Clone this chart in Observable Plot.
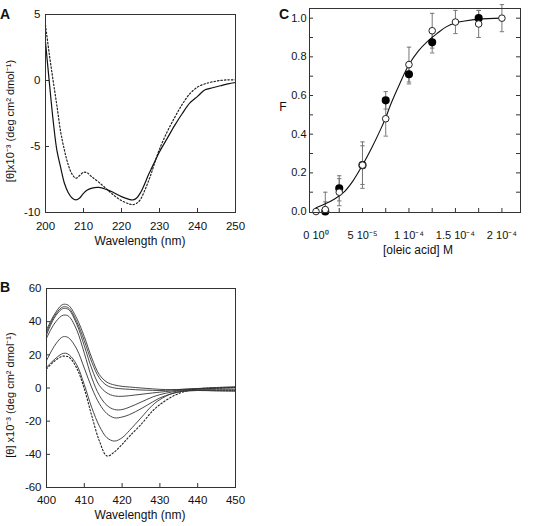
<!DOCTYPE html>
<html><head><meta charset="utf-8">
<script src="https://cdn.jsdelivr.net/npm/d3@7"></script>
<script src="https://cdn.jsdelivr.net/npm/@observablehq/plot@0.6"></script>
<style>
body{margin:0;background:#fff;font-family:"Liberation Sans",Arial,sans-serif;}
#root{position:relative;width:535px;height:526px;overflow:hidden;background:#fff;}
.panel{position:absolute;}
.lbl{position:absolute;color:#111;white-space:nowrap;font-family:"Liberation Sans",Arial,sans-serif;}
.letter{font-weight:bold;font-size:14px;}
.ylab{transform:translate(-50%,-50%) rotate(-90deg);font-size:11px;}
.xlab{transform:translate(-50%,-50%);font-size:12px;}
</style></head><body><div id="root"></div>
<script>
// ---------- Panel A data ----------
const wlA = [200,201,202,203,204,205,206,207,208,209,210,211,212,214,216,218,220,222,223,224,225,226,227,228,229,230,232,234,236,238,240,242,244,246,248,250];
const solidA = [2.9,-0.1,-3,-5.3,-6.6,-7.8,-8.5,-8.9,-9.05,-8.9,-8.55,-8.3,-8.17,-8.1,-8.25,-8.5,-8.8,-9.0,-9.05,-8.9,-8.5,-7.9,-7.2,-6.6,-6.0,-5.4,-4.4,-3.4,-2.5,-1.7,-1.2,-0.7,-0.55,-0.4,-0.25,-0.15];
const dottedA = [4.2,2.0,0,-1.9,-3.9,-5.3,-6.4,-7.1,-7.4,-7.2,-6.95,-7.0,-7.25,-7.7,-8.2,-8.7,-9.1,-9.35,-9.4,-9.3,-9.0,-8.4,-7.7,-6.9,-6.0,-5.2,-3.9,-2.8,-1.8,-1.0,-0.5,-0.25,-0.1,0.0,0.05,0.05];
const xTicksA = [200,210,220,230,240,250];
const yTicksA = [-10,-5,0,5];

// ---------- Panel B data ----------
const wlB = [400,402,404,405,406,408,410,412,414,416,418,420,422,425,428,430,433,436,440,445,450];
const curveB1 = [35,44,50,50.5,49.5,42,31,18,8,3.5,1.8,1.0,0.6,0,-0.5,-0.8,-1,-0.8,-0.3,0.3,0.8];
const curveB2 = [33.5,43,48.5,49,48,40,28.5,15.5,6,1.5,0,-0.5,-0.8,-1.2,-1.4,-1.5,-1.2,-0.8,-0.4,0,0.4];
const curveB3 = [32,42,47.5,48,47,38.5,25.5,11.5,1.5,-3,-4.8,-5,-4.6,-3.8,-3,-2.5,-1.8,-1.2,-0.6,-0.2,0];
const curveB4 = [30,38.5,43.5,44,43,35,21,6,-4.5,-10.5,-13,-13,-11.5,-8.5,-5.5,-4,-2.5,-1.5,-1,-1,-1];
const curveB5 = [16.5,25,30.5,31,30,23.5,12,0,-9.5,-15.5,-18,-17.5,-16,-12.5,-8.5,-6,-3.5,-2,-1.5,-1.5,-1.5];
const curveB6 = [12.5,17,20.5,21,20,14,2,-12,-23,-30,-32,-30,-25.5,-18,-10.5,-7,-3.5,-2,-1.5,-1.8,-2];
const dottedB = [11.5,16,19,19.2,18.5,12,-0.5,-17,-32,-41,-38.5,-34,-29,-22,-14,-10,-5.5,-2.5,-0.5,0,0.3];
const xTicksB = [400,410,420,430,440,450];
const yTicksB = [-60,-40,-20,0,20,40,60];

// ---------- Panel C data ----------
const concOpen = [0,1e-5,2.5e-5,5e-5,7.5e-5,1e-4,1.25e-4,1.5e-4,1.75e-4,2e-4];
const fOpen = [0,0.01,0.10,0.24,0.48,0.76,0.935,0.98,0.97,1.0];
const errOpen = [0,0.09,0.07,0.12,0.09,0.09,0.09,0.06,0.07,0.07];
const concFilled = [1e-5,2.5e-5,5e-5,7.5e-5,1e-4,1.25e-4,1.75e-4];
const fFilled = [0.0,0.12,0.24,0.575,0.71,0.875,1.0];
const errFilled = [0.05,0.065,0.10,0.045,0.05,0.055,0.04];
const fitX = [0,1e-5,2e-5,3e-5,4e-5,5e-5,6e-5,7e-5,7.5e-5,8e-5,9e-5,1e-4,1.1e-4,1.2e-4,1.3e-4,1.4e-4,1.5e-4,1.6e-4,1.75e-4,2e-4];
const fitY = [0.02,0.04,0.065,0.10,0.16,0.24,0.33,0.43,0.485,0.55,0.66,0.76,0.83,0.88,0.92,0.955,0.975,0.985,0.995,1.0];
const xTicksC = [0,5e-5,1e-4,1.5e-4,2e-4];
const xTickLabelsC = ["0 10⁰","5 10⁻⁵","1 10⁻⁴","1.5 10⁻⁴","2 10⁻⁴"];
const xMinorC = [2.5e-5,5e-5,7.5e-5,1e-4,1.25e-4,1.5e-4,1.75e-4,2e-4];
const yTicksC = [0,0.2,0.4,0.6,0.8,1.0];
const yMinorC = [0.1,0.2,0.3,0.4,0.5,0.6,0.7,0.8,0.9,1.0];

// ---------- helpers ----------
const root = document.getElementById("root");
const FONT = "'Liberation Sans', Arial, sans-serif";
function place(node, left, top){ node.classList.add("panel"); node.style.left=left+"px"; node.style.top=top+"px"; root.appendChild(node); }
function label(text, cls, x, y){ const d=document.createElement("div"); d.className="lbl "+cls; d.textContent=text; d.style.left=x+"px"; d.style.top=y+"px"; root.appendChild(d); }
const capSymbol = {draw(ctx, size){ const r=Math.sqrt(size/Math.PI); ctx.moveTo(-r,0); ctx.lineTo(r,0); }};
function inwardTicks(xs, ys, fw, fh){
  return [Plot.ruleX(xs,{x:d=>d,insetTop:fh-4,stroke:"#333"}), Plot.ruleY(ys,{y:d=>d,insetRight:fw-4,stroke:"#333"})];
}

// ---------- Panel A ----------
const dataA = wlA.map((w,i)=>({w, s:solidA[i], d:dottedA[i]}));
const plotA = Plot.plot({
  width:250, height:255, marginLeft:45, marginRight:15, marginTop:14, marginBottom:43,
  style:{fontFamily:FONT, fontSize:"11.5px", color:"#111", background:"transparent", overflow:"visible"},
  x:{domain:[200,250], ticks:xTicksA, tickFormat:d=>String(d), tickSize:0, tickPadding:9, label:null},
  y:{domain:[-10,5], ticks:yTicksA, tickFormat:d=>String(d), tickSize:0, tickPadding:5, label:null},
  marks:[
    ...inwardTicks([210,220,230,240],[-5,0],190,198),
    Plot.line(dataA,{x:"w",y:"d",stroke:"#222",strokeWidth:1.2,strokeDasharray:"1.5,2",curve:"catmull-rom"}),
    Plot.line(dataA,{x:"w",y:"s",stroke:"#111",strokeWidth:1.2,curve:"catmull-rom"}),
    Plot.frame({stroke:"#333"})
  ]
});
place(plotA,0,0);

// ---------- Panel B ----------
const solidB = [curveB1,curveB2,curveB3,curveB4,curveB5,curveB6];
const dataBs = solidB.flatMap((arr,k)=>wlB.map((w,i)=>({w, v:arr[i], k})));
const dataBd = wlB.map((w,i)=>({w, v:dottedB[i]}));
const plotB = Plot.plot({
  width:250, height:256, marginLeft:46, marginRight:15, marginTop:18, marginBottom:39,
  style:{fontFamily:FONT, fontSize:"11.5px", color:"#111", background:"transparent", overflow:"visible"},
  x:{domain:[400,450], ticks:xTicksB, tickFormat:d=>String(d), tickSize:0, tickPadding:8, label:null},
  y:{domain:[-60,60], ticks:yTicksB, tickFormat:d=>String(d), tickSize:0, tickPadding:5, label:null},
  marks:[
    ...inwardTicks([410,420,430,440],[-40,-20,0,20,40],189,199),
    Plot.line(dataBd,{x:"w",y:"v",stroke:"#222",strokeWidth:1.1,strokeDasharray:"1.5,2",curve:"catmull-rom"}),
    Plot.line(dataBs,{x:"w",y:"v",z:"k",stroke:"#333",strokeWidth:0.9,curve:"catmull-rom"}),
    Plot.frame({stroke:"#333"})
  ]
});
place(plotB,0,270);

// ---------- Panel C ----------
const openPts = concOpen.map((c,i)=>({c, f:fOpen[i], lo:Math.max(-0.005,fOpen[i]-errOpen[i]), hi:fOpen[i]+errOpen[i], e:errOpen[i]}));
const filledPts = concFilled.map((c,i)=>({c, f:fFilled[i], lo:Math.max(-0.005,fFilled[i]-errFilled[i]), hi:fFilled[i]+errFilled[i], e:errFilled[i]}));
const errPts = [...openPts, ...filledPts].filter(d=>d.e>0);
const fit = fitX.map((c,i)=>({c, f:fitY[i]}));
const plotC = Plot.plot({
  width:265, height:255, marginLeft:39, marginRight:15, marginTop:8, marginBottom:43,
  style:{fontFamily:FONT, fontSize:"11px", color:"#111", background:"transparent", overflow:"visible"},
  x:{domain:[-0.07e-4,2.2e-4], ticks:xTicksC, tickFormat:d=>xTickLabelsC[xTicksC.indexOf(d)], tickSize:0, tickPadding:19, label:null},
  y:{domain:[-0.005,1.05], ticks:yTicksC, tickFormat:d=>d.toFixed(1), tickSize:0, tickPadding:3, label:null},
  marks:[
    Plot.ruleX(xMinorC,{x:d=>d,insetTop:200,stroke:"#333"}),
    Plot.ruleY(yMinorC,{y:d=>d,insetRight:207,stroke:"#333"}),
    Plot.ruleY(yMinorC,{y:d=>d,insetLeft:207,stroke:"#333"}),
    Plot.ruleX(errPts,{x:"c",y1:"lo",y2:"hi",stroke:"#777",strokeWidth:1}),
    Plot.dot(errPts,{x:"c",y:"hi",symbol:capSymbol,r:2.2,fill:"none",stroke:"#777",strokeWidth:1}),
    Plot.dot(errPts,{x:"c",y:"lo",symbol:capSymbol,r:2.2,fill:"none",stroke:"#777",strokeWidth:1}),
    Plot.line(fit,{x:"c",y:"f",stroke:"#111",strokeWidth:1.1,curve:"catmull-rom"}),
    Plot.dot(filledPts,{x:"c",y:"f",r:3.3,fill:"#000",stroke:"#000"}),
    Plot.dot(openPts,{x:"c",y:"f",r:3.3,fill:"#fff",stroke:"#222",strokeWidth:1}),
    Plot.frame({stroke:"#333"})
  ]
});
place(plotC,270,0);

// ---------- text labels ----------
label("A","letter",0,6);
label("B","letter",0,279);
label("C","letter",279,6);
label("[θ]x10⁻³ (deg cm² dmol⁻¹)","ylab",9,121);
label("[θ] x10⁻³ (deg cm² dmol⁻¹)","ylab",9,395);
label("Wavelength (nm)","xlab",140,241);
label("Wavelength (nm)","xlab",140,515);
label("F","xlab",283,107);
label("[oleic acid] M","xlab",418,250);
</script></body></html>
